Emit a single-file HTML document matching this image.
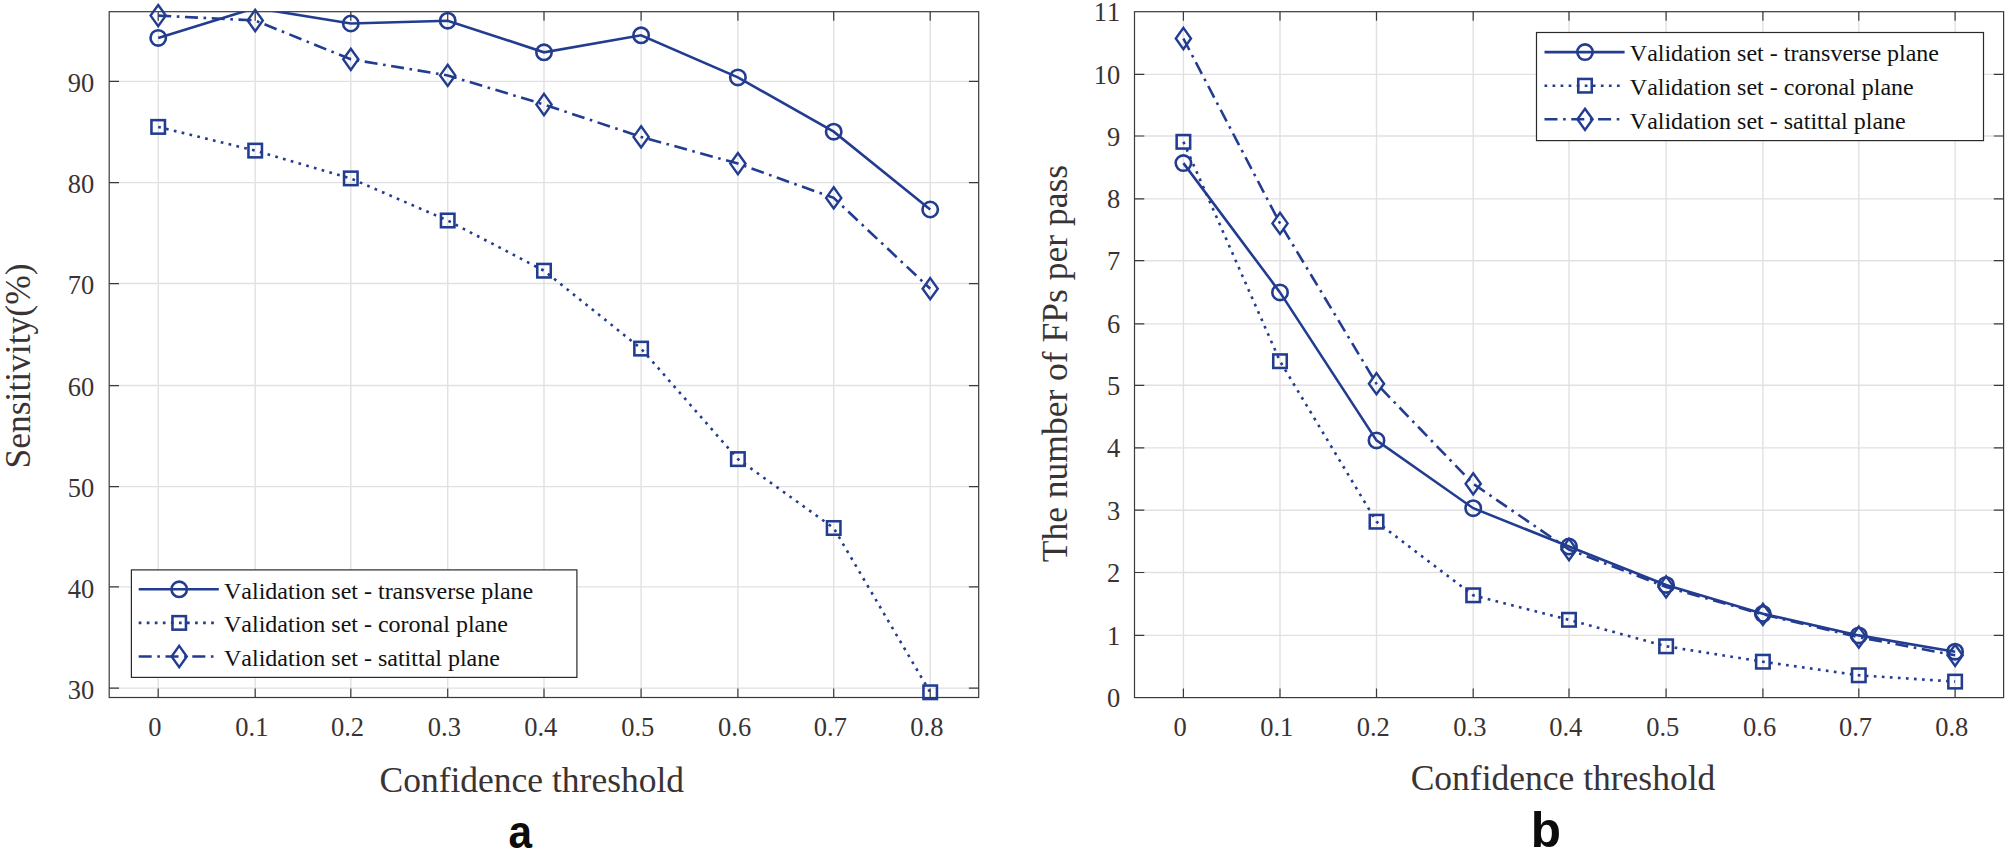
<!DOCTYPE html>
<html lang="en">
<head>
<meta charset="utf-8">
<title>Sensitivity and FPs per pass vs confidence threshold</title>
<style>
html,body{margin:0;padding:0;background:#fff;}
body{width:2007px;height:852px;overflow:hidden;}
svg{display:block;font-family:"Liberation Serif","Times New Roman",serif;font-kerning:none;}
</style>
</head>
<body>
<svg width="2007" height="852" viewBox="0 0 2007 852">
<rect width="2007" height="852" fill="#fff"/>
<clipPath id="clip1"><rect x="109.2" y="11.7" width="869.5" height="685.8"/></clipPath>
<path d="M158.2 11.7V697.5M255.2 11.7V697.5M350.8 11.7V697.5M447.7 11.7V697.5M544 11.7V697.5M641.1 11.7V697.5M737.9 11.7V697.5M833.7 11.7V697.5M930.2 11.7V697.5M109.2 688.1H978.7M109.2 586.9H978.7M109.2 486.6H978.7M109.2 385.55H978.7M109.2 283.55H978.7M109.2 182.6H978.7M109.2 81.4H978.7" stroke="#e1e1e3" stroke-width="1.4" fill="none"/>
<path d="M158.2 697.5v-9M158.2 11.7v9M255.2 697.5v-9M255.2 11.7v9M350.8 697.5v-9M350.8 11.7v9M447.7 697.5v-9M447.7 11.7v9M544 697.5v-9M544 11.7v9M641.1 697.5v-9M641.1 11.7v9M737.9 697.5v-9M737.9 11.7v9M833.7 697.5v-9M833.7 11.7v9M930.2 697.5v-9M930.2 11.7v9M109.2 688.1h9.8M978.7 688.1h-9.8M109.2 586.9h9.8M978.7 586.9h-9.8M109.2 486.6h9.8M978.7 486.6h-9.8M109.2 385.55h9.8M978.7 385.55h-9.8M109.2 283.55h9.8M978.7 283.55h-9.8M109.2 182.6h9.8M978.7 182.6h-9.8M109.2 81.4h9.8M978.7 81.4h-9.8" stroke="#3a3a3a" stroke-width="1.2" fill="none"/>
<rect x="109.2" y="11.7" width="869.5" height="685.8" fill="none" stroke="#3a3a3a" stroke-width="1.2"/>
<polyline points="158.2,37.9 255.2,8 350.8,23.5 447.7,20.7 544,52.3 641.1,35.3 737.9,77.4 833.7,131.7 930.2,209.5" fill="none" stroke="#223c90" stroke-width="2.6"  clip-path="url(#clip1)"/>
<polyline points="158.2,126.9 255.2,150.6 350.8,178.4 447.7,220.5 544,270.7 641.1,348.6 737.9,459.1 833.7,528 930.2,692.3" fill="none" stroke="#223c90" stroke-width="2.6" stroke-dasharray="2.7 5.35" clip-path="url(#clip1)"/>
<polyline points="158.2,15.6 255.2,20.5 350.8,59.3 447.7,75.4 544,104.5 641.1,136.9 737.9,163.6 833.7,197.9 930.2,288.7" fill="none" stroke="#223c90" stroke-width="2.6" stroke-dasharray="13 5.6 2.6 5.6" clip-path="url(#clip1)"/>
<g fill="none" stroke="#223c90" stroke-width="2.65"><circle cx="158.2" cy="37.9" r="7.7" stroke-width="2.6"/><circle cx="350.8" cy="23.5" r="7.7" stroke-width="2.6"/><circle cx="447.7" cy="20.7" r="7.7" stroke-width="2.6"/><circle cx="544" cy="52.3" r="7.7" stroke-width="2.6"/><circle cx="641.1" cy="35.3" r="7.7" stroke-width="2.6"/><circle cx="737.9" cy="77.4" r="7.7" stroke-width="2.6"/><circle cx="833.7" cy="131.7" r="7.7" stroke-width="2.6"/><circle cx="930.2" cy="209.5" r="7.7" stroke-width="2.6"/></g>
<g fill="none" stroke="#223c90" stroke-width="2.65"><rect x="151.45" y="120.15" width="13.5" height="13.5" stroke-width="2.55"/><rect x="248.45" y="143.85" width="13.5" height="13.5" stroke-width="2.55"/><rect x="344.05" y="171.65" width="13.5" height="13.5" stroke-width="2.55"/><rect x="440.95" y="213.75" width="13.5" height="13.5" stroke-width="2.55"/><rect x="537.25" y="263.95" width="13.5" height="13.5" stroke-width="2.55"/><rect x="634.35" y="341.85" width="13.5" height="13.5" stroke-width="2.55"/><rect x="731.15" y="452.35" width="13.5" height="13.5" stroke-width="2.55"/><rect x="826.95" y="521.25" width="13.5" height="13.5" stroke-width="2.55"/><rect x="923.45" y="685.55" width="13.5" height="13.5" stroke-width="2.55"/></g>
<g fill="none" stroke="#223c90" stroke-width="2.65"><path d="M158.2 5L165.8 15.6L158.2 26.2L150.6 15.6Z" stroke-width="2.4"/><path d="M255.2 9.9L262.8 20.5L255.2 31.1L247.6 20.5Z" stroke-width="2.4"/><path d="M350.8 48.7L358.4 59.3L350.8 69.9L343.2 59.3Z" stroke-width="2.4"/><path d="M447.7 64.8L455.3 75.4L447.7 86L440.1 75.4Z" stroke-width="2.4"/><path d="M544 93.9L551.6 104.5L544 115.1L536.4 104.5Z" stroke-width="2.4"/><path d="M641.1 126.3L648.7 136.9L641.1 147.5L633.5 136.9Z" stroke-width="2.4"/><path d="M737.9 153L745.5 163.6L737.9 174.2L730.3 163.6Z" stroke-width="2.4"/><path d="M833.7 187.3L841.3 197.9L833.7 208.5L826.1 197.9Z" stroke-width="2.4"/><path d="M930.2 278.1L937.8 288.7L930.2 299.3L922.6 288.7Z" stroke-width="2.4"/></g>
<g font-size="26.5" fill="#3a3333"><text x="154.9" y="735.8" text-anchor="middle">0</text><text x="251.9" y="735.8" text-anchor="middle">0.1</text><text x="347.5" y="735.8" text-anchor="middle">0.2</text><text x="444.4" y="735.8" text-anchor="middle">0.3</text><text x="540.7" y="735.8" text-anchor="middle">0.4</text><text x="637.8" y="735.8" text-anchor="middle">0.5</text><text x="734.6" y="735.8" text-anchor="middle">0.6</text><text x="830.4" y="735.8" text-anchor="middle">0.7</text><text x="926.9" y="735.8" text-anchor="middle">0.8</text><text x="94.2" y="698.8" text-anchor="end">30</text><text x="94.2" y="597.6" text-anchor="end">40</text><text x="94.2" y="497.3" text-anchor="end">50</text><text x="94.2" y="396.25" text-anchor="end">60</text><text x="94.2" y="294.25" text-anchor="end">70</text><text x="94.2" y="193.3" text-anchor="end">80</text><text x="94.2" y="92.1" text-anchor="end">90</text></g>
<rect x="131.4" y="569.9" width="445.5" height="107.5" fill="#fff" stroke="#2a2a2a" stroke-width="1.2"/>
<path d="M138.7 589.3H218.8" fill="none" stroke="#223c90" stroke-width="2.6" />
<g fill="none" stroke="#223c90" stroke-width="2.65"><circle cx="179.2" cy="589.3" r="7.7" stroke-width="2.6"/></g>
<text x="224" y="598.5" font-size="24.0" fill="#111">Validation set - transverse plane</text>
<path d="M138.7 622.9H218.8" fill="none" stroke="#223c90" stroke-width="2.6" stroke-dasharray="2.7 5.35"/>
<g fill="none" stroke="#223c90" stroke-width="2.65"><rect x="172.45" y="616.15" width="13.5" height="13.5" stroke-width="2.55"/></g>
<text x="224" y="632.1" font-size="24.0" fill="#111">Validation set - coronal plane</text>
<path d="M138.7 656.5H218.8" fill="none" stroke="#223c90" stroke-width="2.6" stroke-dasharray="13 5.6 2.6 5.6"/>
<g fill="none" stroke="#223c90" stroke-width="2.65"><path d="M179.2 645.9L186.8 656.5L179.2 667.1L171.6 656.5Z" stroke-width="2.4"/></g>
<text x="224" y="665.7" font-size="24.0" fill="#111">Validation set - satittal plane</text>
<text x="531.8" y="792.1" font-size="35.5" fill="#3a3333" text-anchor="middle">Confidence threshold</text>
<text transform="translate(29.6 366.0) rotate(-90)" font-size="35.5" fill="#3a3333" text-anchor="middle">Sensitivity(%)</text>
<text transform="translate(520.2 848.2) scale(0.92 1)" font-family="'Liberation Sans', sans-serif" font-weight="bold" font-size="46" fill="#0c0c0c" text-anchor="middle">a</text>
<clipPath id="clip2"><rect x="1134.5" y="11.7" width="869.1" height="685.9"/></clipPath>
<path d="M1183.4 11.7V697.6M1280 11.7V697.6M1376.5 11.7V697.6M1473.2 11.7V697.6M1569 11.7V697.6M1666.1 11.7V697.6M1762.9 11.7V697.6M1858.8 11.7V697.6M1955.1 11.7V697.6M1134.5 635.4H2003.6M1134.5 572.5H2003.6M1134.5 510.2H2003.6M1134.5 447.9H2003.6M1134.5 385.3H2003.6M1134.5 323.9H2003.6M1134.5 260.7H2003.6M1134.5 198.9H2003.6M1134.5 136H2003.6M1134.5 74.4H2003.6" stroke="#e1e1e3" stroke-width="1.4" fill="none"/>
<path d="M1183.4 697.6v-9M1183.4 11.7v9M1280 697.6v-9M1280 11.7v9M1376.5 697.6v-9M1376.5 11.7v9M1473.2 697.6v-9M1473.2 11.7v9M1569 697.6v-9M1569 11.7v9M1666.1 697.6v-9M1666.1 11.7v9M1762.9 697.6v-9M1762.9 11.7v9M1858.8 697.6v-9M1858.8 11.7v9M1955.1 697.6v-9M1955.1 11.7v9M1134.5 635.4h9.8M2003.6 635.4h-9.8M1134.5 572.5h9.8M2003.6 572.5h-9.8M1134.5 510.2h9.8M2003.6 510.2h-9.8M1134.5 447.9h9.8M2003.6 447.9h-9.8M1134.5 385.3h9.8M2003.6 385.3h-9.8M1134.5 323.9h9.8M2003.6 323.9h-9.8M1134.5 260.7h9.8M2003.6 260.7h-9.8M1134.5 198.9h9.8M2003.6 198.9h-9.8M1134.5 136h9.8M2003.6 136h-9.8M1134.5 74.4h9.8M2003.6 74.4h-9.8" stroke="#3a3a3a" stroke-width="1.2" fill="none"/>
<rect x="1134.5" y="11.7" width="869.1" height="685.9" fill="none" stroke="#3a3a3a" stroke-width="1.2"/>
<polyline points="1183.4,163.1 1280,292.4 1376.5,440.4 1473.2,508.2 1569,546.5 1666.1,584.9 1762.9,613.8 1858.8,635.4 1955.1,651.7" fill="none" stroke="#223c90" stroke-width="2.6"  clip-path="url(#clip2)"/>
<polyline points="1183.4,141.8 1280,361.2 1376.5,521.7 1473.2,595.3 1569,619.8 1666.1,646.3 1762.9,661.7 1858.8,675.3 1955.1,681.6" fill="none" stroke="#223c90" stroke-width="2.6" stroke-dasharray="2.7 5.35" clip-path="url(#clip2)"/>
<polyline points="1183.4,38.5 1280,223.4 1376.5,383.7 1473.2,483.8 1569,549.5 1666.1,586.9 1762.9,614.4 1858.8,637.2 1955.1,655.3" fill="none" stroke="#223c90" stroke-width="2.6" stroke-dasharray="13 5.6 2.6 5.6" clip-path="url(#clip2)"/>
<g fill="none" stroke="#223c90" stroke-width="2.65"><circle cx="1183.4" cy="163.1" r="7.7" stroke-width="2.6"/><circle cx="1280" cy="292.4" r="7.7" stroke-width="2.6"/><circle cx="1376.5" cy="440.4" r="7.7" stroke-width="2.6"/><circle cx="1473.2" cy="508.2" r="7.7" stroke-width="2.6"/><circle cx="1569" cy="546.5" r="7.7" stroke-width="2.6"/><circle cx="1666.1" cy="584.9" r="7.7" stroke-width="2.6"/><circle cx="1762.9" cy="613.8" r="7.7" stroke-width="2.6"/><circle cx="1858.8" cy="635.4" r="7.7" stroke-width="2.6"/><circle cx="1955.1" cy="651.7" r="7.7" stroke-width="2.6"/></g>
<g fill="none" stroke="#223c90" stroke-width="2.65"><rect x="1176.65" y="135.05" width="13.5" height="13.5" stroke-width="2.55"/><rect x="1273.25" y="354.45" width="13.5" height="13.5" stroke-width="2.55"/><rect x="1369.75" y="514.95" width="13.5" height="13.5" stroke-width="2.55"/><rect x="1466.45" y="588.55" width="13.5" height="13.5" stroke-width="2.55"/><rect x="1562.25" y="613.05" width="13.5" height="13.5" stroke-width="2.55"/><rect x="1659.35" y="639.55" width="13.5" height="13.5" stroke-width="2.55"/><rect x="1756.15" y="654.95" width="13.5" height="13.5" stroke-width="2.55"/><rect x="1852.05" y="668.55" width="13.5" height="13.5" stroke-width="2.55"/><rect x="1948.35" y="674.85" width="13.5" height="13.5" stroke-width="2.55"/></g>
<g fill="none" stroke="#223c90" stroke-width="2.65"><path d="M1183.4 27.9L1191 38.5L1183.4 49.1L1175.8 38.5Z" stroke-width="2.4"/><path d="M1280 212.8L1287.6 223.4L1280 234L1272.4 223.4Z" stroke-width="2.4"/><path d="M1376.5 373.1L1384.1 383.7L1376.5 394.3L1368.9 383.7Z" stroke-width="2.4"/><path d="M1473.2 473.2L1480.8 483.8L1473.2 494.4L1465.6 483.8Z" stroke-width="2.4"/><path d="M1569 538.9L1576.6 549.5L1569 560.1L1561.4 549.5Z" stroke-width="2.4"/><path d="M1666.1 576.3L1673.7 586.9L1666.1 597.5L1658.5 586.9Z" stroke-width="2.4"/><path d="M1762.9 603.8L1770.5 614.4L1762.9 625L1755.3 614.4Z" stroke-width="2.4"/><path d="M1858.8 626.6L1866.4 637.2L1858.8 647.8L1851.2 637.2Z" stroke-width="2.4"/><path d="M1955.1 644.7L1962.7 655.3L1955.1 665.9L1947.5 655.3Z" stroke-width="2.4"/></g>
<g font-size="26.5" fill="#3a3333"><text x="1180.1" y="735.8" text-anchor="middle">0</text><text x="1276.7" y="735.8" text-anchor="middle">0.1</text><text x="1373.2" y="735.8" text-anchor="middle">0.2</text><text x="1469.9" y="735.8" text-anchor="middle">0.3</text><text x="1565.7" y="735.8" text-anchor="middle">0.4</text><text x="1662.8" y="735.8" text-anchor="middle">0.5</text><text x="1759.6" y="735.8" text-anchor="middle">0.6</text><text x="1855.5" y="735.8" text-anchor="middle">0.7</text><text x="1951.8" y="735.8" text-anchor="middle">0.8</text><text x="1120.2" y="707.2" text-anchor="end">0</text><text x="1120.2" y="644.9" text-anchor="end">1</text><text x="1120.2" y="582" text-anchor="end">2</text><text x="1120.2" y="519.7" text-anchor="end">3</text><text x="1120.2" y="457.4" text-anchor="end">4</text><text x="1120.2" y="394.8" text-anchor="end">5</text><text x="1120.2" y="333.4" text-anchor="end">6</text><text x="1120.2" y="270.2" text-anchor="end">7</text><text x="1120.2" y="208.4" text-anchor="end">8</text><text x="1120.2" y="145.5" text-anchor="end">9</text><text x="1120.2" y="83.9" text-anchor="end">10</text><text x="1120.2" y="21.4" text-anchor="end">11</text></g>
<rect x="1536.5" y="32.5" width="447.0" height="108.1" fill="#fff" stroke="#2a2a2a" stroke-width="1.2"/>
<path d="M1544.5 52.1H1624.6" fill="none" stroke="#223c90" stroke-width="2.6" />
<g fill="none" stroke="#223c90" stroke-width="2.65"><circle cx="1585" cy="52.1" r="7.7" stroke-width="2.6"/></g>
<text x="1629.8" y="61.3" font-size="24.0" fill="#111">Validation set - transverse plane</text>
<path d="M1544.5 85.7H1624.6" fill="none" stroke="#223c90" stroke-width="2.6" stroke-dasharray="2.7 5.35"/>
<g fill="none" stroke="#223c90" stroke-width="2.65"><rect x="1578.25" y="78.95" width="13.5" height="13.5" stroke-width="2.55"/></g>
<text x="1629.8" y="94.9" font-size="24.0" fill="#111">Validation set - coronal plane</text>
<path d="M1544.5 119.3H1624.6" fill="none" stroke="#223c90" stroke-width="2.6" stroke-dasharray="13 5.6 2.6 5.6"/>
<g fill="none" stroke="#223c90" stroke-width="2.65"><path d="M1585 108.7L1592.6 119.3L1585 129.9L1577.4 119.3Z" stroke-width="2.4"/></g>
<text x="1629.8" y="128.5" font-size="24.0" fill="#111">Validation set - satittal plane</text>
<text x="1563.0" y="789.5" font-size="35.5" fill="#3a3333" text-anchor="middle">Confidence threshold</text>
<text transform="translate(1066.6 363.6) rotate(-90)" font-size="35.5" fill="#3a3333" text-anchor="middle">The number of FPs per pass</text>
<text transform="translate(1545.8 847.0) scale(1 1)" font-family="'Liberation Sans', sans-serif" font-weight="bold" font-size="49.5" fill="#0c0c0c" text-anchor="middle">b</text>
</svg>
</body>
</html>
